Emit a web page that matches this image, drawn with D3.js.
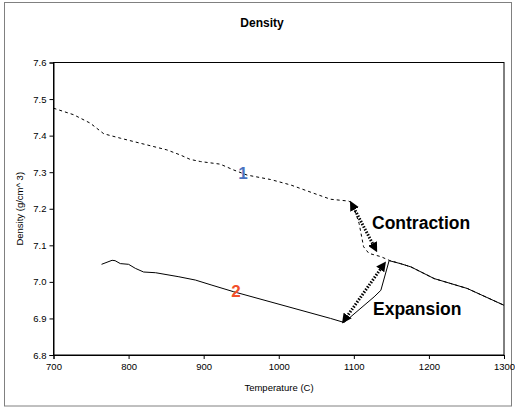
<!DOCTYPE html>
<html><head><meta charset="utf-8">
<script src="https://cdn.jsdelivr.net/npm/d3@7"></script>
<style>body{margin:0;background:#fff}svg{display:block}</style>
</head><body>
<script>
const xTicks = [700, 800, 900, 1000, 1100, 1200, 1300];
const yTicks = [6.8, 6.9, 7.0, 7.1, 7.2, 7.3, 7.4, 7.5, 7.6];
// Curve 1 (dashed)
const temp1 = [700, 727, 749, 767, 789, 816, 851, 869, 882, 896, 922, 940, 958, 989, 1016, 1047, 1069, 1093, 1098, 1107, 1113, 1120, 1136, 1147, 1162, 1176, 1207, 1251, 1300];
const dens1 = [7.475, 7.457, 7.434, 7.405, 7.393, 7.379, 7.361, 7.347, 7.335, 7.329, 7.322, 7.306, 7.292, 7.28, 7.265, 7.242, 7.226, 7.221, 7.215, 7.16, 7.096, 7.078, 7.069, 7.059, 7.05, 7.041, 7.009, 6.982, 6.936];
// Curve 2 (solid)
const temp2 = [764, 778, 782, 789, 800, 809, 820, 836, 867, 889, 911, 940, 1069, 1087, 1127, 1136, 1147, 1162, 1176, 1207, 1251, 1300];
const dens2 = [7.048, 7.059, 7.058, 7.050, 7.048, 7.037, 7.027, 7.025, 7.014, 7.005, 6.991, 6.973, 6.9, 6.889, 6.959, 6.977, 7.058, 7.05, 7.041, 7.009, 6.982, 6.936];
// Arrows [x1,y1,x2,y2] in data units
const contraction = [1098, 7.21, 1128, 7.093];
const expansion = [1088, 6.897, 1139, 7.045];

const W = 515, H = 408;
const svg = d3.select("body").append("svg").attr("width", W).attr("height", H);
svg.append("rect").attr("x", 4.5).attr("y", 2.5).attr("width", 507).attr("height", 403.5)
  .attr("fill", "#fff").attr("stroke", "#808080").attr("stroke-width", 1);

const x = d3.scaleLinear().domain([700, 1300]).range([53.5, 504]);
const y = d3.scaleLinear().domain([6.8, 7.6]).range([355, 62.5]);

// plot frame
svg.append("rect").attr("x", x(700)).attr("y", y(7.6)).attr("width", x(1300) - x(700)).attr("height", y(6.8) - y(7.6))
  .attr("fill", "none").attr("stroke", "#000").attr("stroke-width", 1);

const font = "Liberation Sans, Arial, sans-serif";
const xa = svg.append("g").attr("transform", `translate(0,${y(6.8)})`)
  .call(d3.axisBottom(x).tickValues(xTicks).tickSize(4).tickPadding(4).tickFormat(d3.format("d")));
const ya = svg.append("g").attr("transform", `translate(${x(700)},0)`)
  .call(d3.axisLeft(y).tickValues(yTicks).tickSize(4).tickPadding(3).tickFormat(d3.format(".1f")));
[xa, ya].forEach(a => {
  a.selectAll("path,line").attr("stroke", "#000");
  a.selectAll("text").attr("font-family", font).attr("font-size", 9.5).attr("fill", "#000");
});

svg.append("text").attr("x", 262).attr("y", 27).attr("text-anchor", "middle")
  .attr("font-family", font).attr("font-size", 12).attr("font-weight", "bold").text("Density");
svg.append("text").attr("x", 279).attr("y", 391).attr("text-anchor", "middle")
  .attr("font-family", font).attr("font-size", 9.5).text("Temperature (C)");
svg.append("text").attr("transform", `translate(23,${(y(6.8)+y(7.6))/2}) rotate(-90)`).attr("text-anchor", "middle")
  .attr("font-family", font).attr("font-size", 9.5).text("Density (g/cm^ 3)");

const line = d3.line().x(d => x(d[0])).y(d => y(d[1]));
svg.append("path").datum(temp2.map((t, i) => [t, dens2[i]])).attr("d", line)
  .attr("fill", "none").attr("stroke", "#000").attr("stroke-width", 1);
svg.append("path").datum(temp1.map((t, i) => [t, dens1[i]])).attr("d", line)
  .attr("fill", "none").attr("stroke", "#000").attr("stroke-width", 1).attr("stroke-dasharray", "3,3");

// arrow markers
const defs = svg.append("defs");
defs.append("marker").attr("id", "ah").attr("viewBox", "0 0 10 10").attr("refX", 5).attr("refY", 5)
  .attr("markerWidth", 3.3).attr("markerHeight", 3.3).attr("orient", "auto-start-reverse").attr("markerUnits", "strokeWidth")
  .append("path").attr("d", "M0,0 L10,5 L0,10 Z").attr("fill", "#000");
[contraction, expansion].forEach(a => {
  svg.append("line").attr("x1", x(a[0])).attr("y1", y(a[1])).attr("x2", x(a[2])).attr("y2", y(a[3]))
    .attr("stroke", "#000").attr("stroke-width", 3).attr("stroke-dasharray", "1.5,1.5")
    .attr("marker-start", "url(#ah)").attr("marker-end", "url(#ah)");
});

svg.append("text").attr("x", 372).attr("y", 229).attr("font-family", font).attr("font-size", 17.5)
  .attr("font-weight", "bold").text("Contraction");
svg.append("text").attr("x", 373).attr("y", 315).attr("font-family", font).attr("font-size", 17.5)
  .attr("font-weight", "bold").text("Expansion");
svg.append("text").attr("x", 243).attr("y", 179).attr("text-anchor", "middle").attr("font-family", font)
  .attr("font-size", 17).attr("font-weight", "bold").attr("fill", "#4a72c0").text("1");
svg.append("text").attr("x", 236).attr("y", 297).attr("text-anchor", "middle").attr("font-family", font)
  .attr("font-size", 17).attr("font-weight", "bold").attr("fill", "#f2502a").text("2");
</script>
</body></html>
